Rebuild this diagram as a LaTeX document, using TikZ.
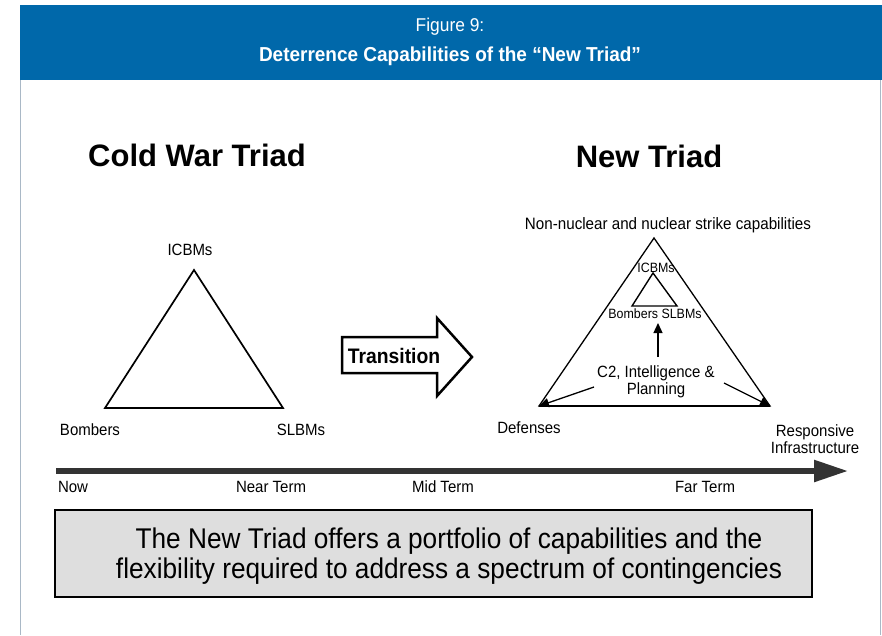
\documentclass[tikz,border=0pt]{standalone}
\usepackage{fontspec}
\setmainfont{Liberation Sans}
\newfontfamily\headfont{Liberation Sans}[FakeStretch=0.94]
\newfontfamily\figfont{Liberation Sans}[FakeStretch=0.92]
\usetikzlibrary{arrows.meta}
\definecolor{headblue}{HTML}{0068AA}
\definecolor{framegray}{HTML}{A9B8C6}
\definecolor{axisgray}{HTML}{333333}
\begin{document}
\begin{tikzpicture}[x=1pt,y=-1pt,style=thick]
%\draw[help lines] (0,0) grid (882,635);
\tikzstyle{head}=[text=white,inner sep=0pt]
\tikzstyle{title}=[font=\bfseries\fontsize{31}{36}\selectfont,inner sep=0pt]
\tikzstyle{lbl}=[font=\figfont\fontsize{16.3}{18}\selectfont,inner sep=0pt,align=center]
\tikzstyle{small}=[font=\figfont\fontsize{13.5}{15}\selectfont,inner sep=0pt]
\tikzstyle{tri}=[draw,line width=1.7pt,line join=miter]
\tikzstyle{tip}=[draw,line width=1.3pt,-{Triangle[length=10pt,width=9pt]}]

\useasboundingbox (0,0) rectangle (882,635);

% header and frame
\fill[headblue] (20,5) rectangle (882,80);
\draw[framegray,line width=1pt] (20,80) -- (20,635);
\draw[framegray,line width=1pt] (880,80) -- (880,635);
\draw (450,27) node[head,font=\headfont\fontsize{18.5}{20}\selectfont] (fig) {Figure 9:};
\draw (450,56) node[head,font=\headfont\bfseries\fontsize{20.2}{22}\selectfont] (cap) {Deterrence Capabilities of the “New Triad”};

% cold war triad
\draw (197,155) node[title] (cw) {Cold War Triad};
\coordinate (capex) at (194,270);
\coordinate (cleft) at (105,408);
\coordinate (cright) at (283,408);
\draw[tri] (capex) -- (cright) -- (cleft) -- cycle;
\draw (190,250) node[lbl] (icbm) {ICBMs};
\draw (90,430) node[lbl] (bomb) {Bombers};
\draw (301,430) node[lbl] (slbm) {SLBMs};

% transition
\draw[line width=2.5pt,line join=miter,fill=white] (342,337) -- (437,337) -- (437,318) -- (472,357)
  -- (437,396) -- (437,373) -- (342,373) -- cycle;
\draw (394,356) node[font=\figfont\bfseries\fontsize{21}{24}\selectfont,inner sep=0pt] (trans) {Transition};

% new triad
\draw (649,156) node[title] (nt) {New Triad};
\draw (668,225) node[lbl,font=\figfont\fontsize{16.5}{18}\selectfont] (strike) {Non-nuclear and nuclear strike capabilities};
\coordinate (napex) at (654,238);
\coordinate (nleft) at (539,406);
\coordinate (nright) at (770,406);
\draw[tri,line width=1.3pt] (napex) -- (nright) -- (nleft) -- cycle;
\draw[line width=2.2pt] (nleft) -- (nright);
\coordinate (iapex) at (653,273);
\coordinate (ileft) at (632,306);
\coordinate (iright) at (677,306);
\draw[tri,line width=1.4pt] (iapex) -- (iright) -- (ileft) -- cycle;
\draw (656,268) node[small] (nicbm) {ICBMs};
\draw (655,314) node[small] (nbs) {Bombers SLBMs};
\draw (656,382) node[lbl] (c2) {C2, Intelligence \&\\[-1pt]Planning};
\coordinate (c2l) at (594,387);
\coordinate (c2r) at (724,383);
\coordinate (c2u) at (658,357);
\draw[tip] (c2u) -- (658,323);
\draw[tip] (c2l) -- (nleft);
\draw[tip] (c2r) -- (nright);
\draw (529,428) node[lbl] (def) {Defenses};
\draw (815,439) node[lbl] (resp) {Responsive\\[-1pt]Infrastructure};

% timeline
\coordinate (tstart) at (56,471);
\coordinate (tend) at (848,471);
\draw[axisgray,line width=5.5pt,-{Triangle[length=34pt,width=21pt]}] (tstart) -- (tend);
\draw (73,487) node[lbl] (now) {Now};
\draw (271,487) node[lbl] (near) {Near Term};
\draw (443,487) node[lbl] (mid) {Mid Term};
\draw (705,487) node[lbl] (far) {Far Term};

% message box
\draw (433.5,553.5) node[draw,line width=2.5pt,fill=black!13,minimum width=757pt,minimum height=87pt] (msgbox) {};
\draw (449,556) node[font=\figfont\fontsize{28.5}{30.5}\selectfont,align=center,inner sep=0pt] (msg)
  {The New Triad offers a portfolio of capabilities and the\\flexibility required to address a spectrum of contingencies};
\end{tikzpicture}
\end{document}
